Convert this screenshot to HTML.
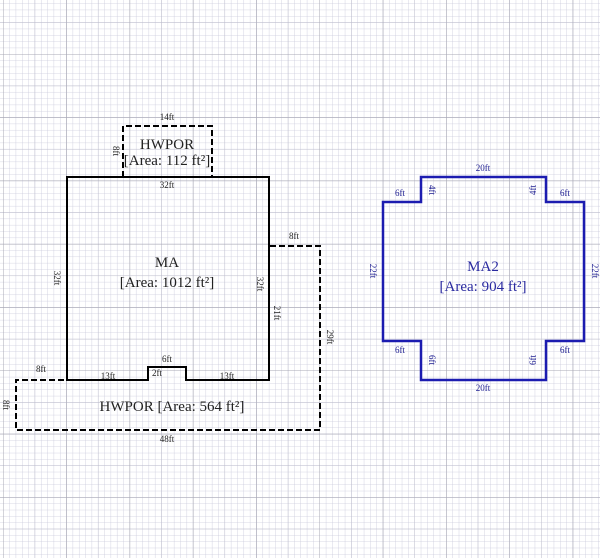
<!DOCTYPE html>
<html><head><meta charset="utf-8"><style>
html,body{margin:0;padding:0;background:#fff;}
svg{display:block;font-family:"Liberation Serif",serif;}
</style></head><body>
<svg width="600" height="558" viewBox="0 0 600 558" xmlns="http://www.w3.org/2000/svg">
<defs>
<pattern id="minor" x="3" y="54" width="6.33" height="6.33" patternUnits="userSpaceOnUse">
<path d="M0 0H6.33M0 0V6.33" stroke="#cacadc" stroke-width="0.8" fill="none"/>
</pattern>
<pattern id="mid" x="3" y="54" width="31.65" height="31.65" patternUnits="userSpaceOnUse">
<path d="M0 0H31.65M0 0V31.65" stroke="#bcbccc" stroke-width="0.9" fill="none"/>
</pattern>
<pattern id="major" x="3" y="54" width="63.3" height="63.3" patternUnits="userSpaceOnUse">
<path d="M0 0H63.3M0 0V63.3" stroke="#a8a8b4" stroke-width="1" fill="none"/>
</pattern>
</defs>
<rect width="600" height="558" fill="#fff"/>
<rect width="600" height="558" fill="url(#minor)"/>
<rect width="600" height="558" fill="url(#mid)"/>
<rect width="600" height="558" fill="url(#major)"/>

<g fill="none" stroke="#000" stroke-width="2" stroke-dasharray="6,3">
<path d="M123 177V126H212V177"/>
<path d="M270 246H320V430H16V380H67"/>
</g>
<path d="M67 177H269V380H186V367H148V380H67Z" fill="none" stroke="#000" stroke-width="2"/>

<g font-size="9" fill="#222" text-anchor="middle">
<text x="167" y="120">14ft</text>
<text x="167" y="188">32ft</text>
<text x="294" y="239">8ft</text>
<text x="167" y="362">6ft</text>
<text x="157" y="376">2ft</text>
<text x="108" y="379">13ft</text>
<text x="227" y="379">13ft</text>
<text x="41" y="372">8ft</text>
<text x="167" y="442">48ft</text>
<text transform="translate(113,151) rotate(90)">8ft</text>
<text transform="translate(54,278) rotate(90)">32ft</text>
<text transform="translate(257,284) rotate(90)">32ft</text>
<text transform="translate(274,313) rotate(90)">21ft</text>
<text transform="translate(327,337) rotate(90)">29ft</text>
<text transform="translate(3,405) rotate(90)">8ft</text>
</g>
<g font-size="15" fill="#222" text-anchor="middle">
<text x="167" y="149">HWPOR</text>
<text x="167" y="165">[Area: 112 ft²]</text>
<text x="167" y="267">MA</text>
<text x="167" y="287">[Area: 1012 ft²]</text>
<text x="172" y="411">HWPOR [Area: 564 ft²]</text>
</g>

<path d="M421 177H546V202H584V341H546V380H421V341H383V202H421Z" fill="none" stroke="#1c1cb0" stroke-width="2.5"/>
<g font-size="9" fill="#1c1c90" text-anchor="middle">
<text x="483" y="171">20ft</text>
<text x="483" y="391">20ft</text>
<text x="400" y="196">6ft</text>
<text x="565" y="196">6ft</text>
<text x="400" y="353">6ft</text>
<text x="565" y="353">6ft</text>
<text transform="translate(429,190) rotate(90)">4ft</text>
<text transform="translate(536,190) rotate(-90)">4ft</text>
<text transform="translate(429,360) rotate(90)">6ft</text>
<text transform="translate(536,360) rotate(-90)">6ft</text>
<text transform="translate(370,271) rotate(90)">22ft</text>
<text transform="translate(592,271) rotate(90)">22ft</text>
</g>
<g font-size="15" fill="#2a2aa0" text-anchor="middle">
<text x="483" y="271">MA2</text>
<text x="483" y="291">[Area: 904 ft²]</text>
</g>
</svg>
</body></html>
